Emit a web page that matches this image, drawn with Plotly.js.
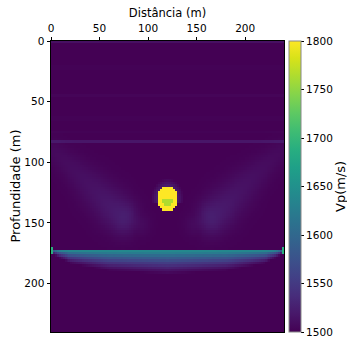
<!DOCTYPE html>
<html>
<head>
<meta charset="utf-8">
<script src="https://cdn.plot.ly/plotly-3.0.1.min.js"></script>
<style>html,body{margin:0;padding:0;background:#fff;}#chart{width:347px;height:343px;}</style>
</head>
<body>
<div id="chart"></div>
<script>
// ---- values ----
const xTicks = [0, 50, 100, 150, 200];
const yTicks = [0, 50, 100, 150, 200];
const cbTicks = [1500, 1550, 1600, 1650, 1700, 1750, 1800];
const xTitle = 'Distância (m)';
const yTitle = 'Profundidade (m)';
const cbTitle = 'Vp(m/s)';
const modelWidth = 240;       // m
const modelDepth = 240;       // m
const cellSize = 2;           // m
const backgroundVp = 1500;

// high-velocity inclusion
const inclusionCenter = [120, 130];
const inclusionRadius = 10.8;
const inclusionVp = 1800;
const inclusionCoreVp = 1765;
const haloVp = 22;

// interface layer (top depth, fade thickness along x)
const interfaceX     = [0,   8,   20,  60,    120,   180,   220, 232, 240];
const interfaceTop   = [171, 172, 172.5, 172.5, 172.5, 172.5, 172.5, 172, 171];
const interfaceThick = [4,   7,   11,  17,    20,    17,    11,  7,   4];
const fadeFrac = [0,    0.12, 0.3,  0.55, 0.8,  1];
const fadeVp   = [1642, 1628, 1590, 1550, 1518, 1500];
const edgeSpikeDepth = [170, 176];
const edgeSpikeVp = 1690;

// faint "wing" artefacts (left wing; right one mirrored)
const wingX     = [4,  25,  45,  62,  74,  92];
const wingZ     = [92, 107, 123, 137, 145, 151];
const wingAmp   = [7,  10,  14,  19,  25,  8];
const wingSigma = [10, 13,  16,  17,  15,  10];

// faint horizontal streaks
const streakDepth = [1,  22, 45, 64, 75, 83];
const streakAmp   = [12, 2,  3,  2,  2,  17];

// ---- build the grid ----
function interp(xs, ys, x) {
  if (x <= xs[0]) return ys[0];
  for (let i = 1; i < xs.length; i++) {
    if (x <= xs[i]) {
      const t = (x - xs[i-1]) / (xs[i] - xs[i-1]);
      return ys[i-1] + t * (ys[i] - ys[i-1]);
    }
  }
  return ys[ys.length - 1];
}
function wingValue(x, z) {
  let best = 0;
  for (let i = 1; i < wingX.length; i++) {
    const ax = wingX[i-1], az = wingZ[i-1], bx = wingX[i], bz = wingZ[i];
    const dx = bx - ax, dz = bz - az;
    let t = ((x - ax) * dx + (z - az) * dz) / (dx * dx + dz * dz);
    t = Math.max(0, Math.min(1, t));
    const px = ax + t * dx, pz = az + t * dz;
    const d = Math.hypot(x - px, z - pz);
    const w = wingSigma[i-1] + t * (wingSigma[i] - wingSigma[i-1]);
    const a = wingAmp[i-1] + t * (wingAmp[i] - wingAmp[i-1]);
    best = Math.max(best, a * Math.exp(-(d / w) * (d / w)));
  }
  return best;
}

const nx = modelWidth / cellSize, nz = modelDepth / cellSize;
const z = [];
for (let j = 0; j < nz; j++) {
  const zc = cellSize * (j + 0.5);
  const row = [];
  for (let i = 0; i < nx; i++) {
    const xc = cellSize * (i + 0.5);
    let v = backgroundVp;
    for (let k = 0; k < streakDepth.length; k++) {
      if (Math.abs(zc - streakDepth[k]) < cellSize * 0.6) v += streakAmp[k];
    }
    v += Math.max(wingValue(xc, zc), wingValue(modelWidth - xc, zc));
    const top = interp(interfaceX, interfaceTop, xc);
    const th = interp(interfaceX, interfaceThick, xc);
    if (zc >= top && zc <= top + th) {
      v = Math.max(v, interp(fadeFrac, fadeVp, (zc - top) / th));
    }
    if ((i === 0 || i === nx - 1) && zc >= edgeSpikeDepth[0] && zc <= edgeSpikeDepth[1]) v = edgeSpikeVp;
    const r = Math.hypot(xc - inclusionCenter[0], zc - inclusionCenter[1]);
    if (r <= inclusionRadius) {
      const core = (zc > inclusionCenter[1] - 1 && r < inclusionRadius * 0.6);
      v = core ? inclusionCoreVp : inclusionVp;
    } else if (r < inclusionRadius + 6 && zc < inclusionCenter[1] + 4) {
      v = Math.max(v, backgroundVp + haloVp * (1 - (r - inclusionRadius) / 6));
    }
    row.push(v);
  }
  z.push(row);
}

const font = {family: 'DejaVu Sans', size: 10.5, color: '#000'};
const trace = {
  type: 'heatmap',
  z: z,
  x0: cellSize / 2, dx: cellSize,
  y0: cellSize / 2, dy: cellSize,
  colorscale: 'Viridis',
  zmin: 1500, zmax: 1800,
  zsmooth: false,
  hoverinfo: 'skip',
  colorbar: {
    thickness: 12, thicknessmode: 'pixels',
    len: 1, lenmode: 'fraction',
    x: 1.02, xanchor: 'left', xpad: 0,
    y: 0.5, yanchor: 'middle', ypad: 0,
    outlinewidth: 1, outlinecolor: '#888',
    ticks: 'outside', ticklen: 3, tickcolor: '#000',
    tickvals: cbTicks, ticktext: cbTicks.map(String),
    tickfont: font
  }
};
const layout = {
  width: 347, height: 343,
  margin: {l: 51, r: 63, t: 41, b: 11, autoexpand: false},
  paper_bgcolor: '#fff', plot_bgcolor: '#fff',
  font: font,
  xaxis: {
    side: 'top', range: [0, modelWidth],
    tickvals: xTicks, ticktext: xTicks.map(String),
    ticks: 'outside', ticklen: 3.5, tickcolor: '#000',
    showline: true, linecolor: '#000', linewidth: 1, mirror: true,
    showgrid: false, zeroline: false,
    tickfont: font,
    title: {text: xTitle, font: {family: 'DejaVu Sans', size: 11.5, color: '#000'}, standoff: 2}
  },
  yaxis: {
    range: [modelDepth, 0],
    tickvals: yTicks, ticktext: yTicks.map(String),
    ticks: 'outside', ticklen: 3.5, tickcolor: '#000',
    showline: true, linecolor: '#000', linewidth: 1, mirror: true,
    showgrid: false, zeroline: false,
    tickfont: font
  },
  annotations: [
    {text: yTitle, xref: 'paper', yref: 'paper', x: -0.1545, y: 0.5,
     xanchor: 'center', yanchor: 'middle', textangle: -90, showarrow: false,
     font: {family: 'DejaVu Sans', size: 13, color: '#000'}},
    {text: cbTitle, xref: 'paper', yref: 'paper', x: 1.2425, y: 0.5,
     xanchor: 'center', yanchor: 'middle', textangle: -90, showarrow: false,
     font: {family: 'DejaVu Sans', size: 13, color: '#000'}}
  ]
};
Plotly.newPlot('chart', [trace], layout, {staticPlot: true, displayModeBar: false});
</script>
</body>
</html>
